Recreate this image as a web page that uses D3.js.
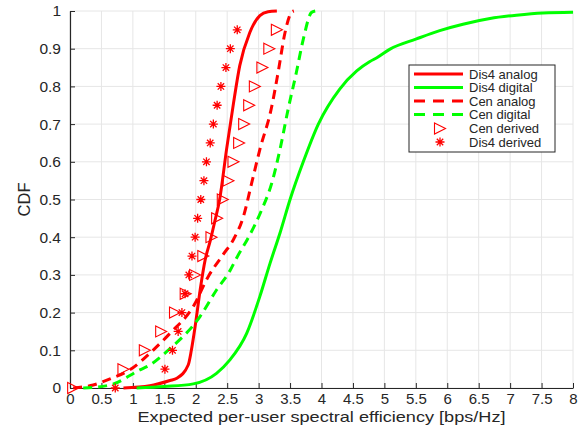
<!DOCTYPE html>
<html>
<head>
<meta charset="utf-8">
<script src="https://cdn.jsdelivr.net/npm/d3@7"></script>
<style>
  body { margin: 0; background: #fff; }
  text { font-family: "Liberation Sans", Arial, sans-serif; fill: #262626; }
</style>
</head>
<body>
<script>
// curves
let disAnalogX = [0.85, 1.27, 1.59, 1.70, 1.88, 1.93, 1.99, 2.07, 2.15, 2.23, 2.30, 2.38, 2.49, 2.60, 2.70, 2.86, 3.02, 3.15, 3.29];
let disAnalogY = [0, 0.006, 0.02, 0.026, 0.061, 0.10, 0.163, 0.26, 0.34, 0.39, 0.44, 0.50, 0.633, 0.755, 0.855, 0.943, 0.988, 0.998, 1.0];

let disDigitalX = [1.06, 1.5, 1.96, 2.33, 2.54, 2.81, 3.02, 3.18, 3.34, 3.50, 3.71, 3.95, 4.29, 4.56, 4.77, 4.88, 5.09, 5.51, 5.88, 6.25, 6.68, 7.10, 7.52, 8.0];
let disDigitalY = [0, 0.004, 0.011, 0.039, 0.074, 0.145, 0.243, 0.33, 0.411, 0.50, 0.60, 0.70, 0.793, 0.841, 0.866, 0.876, 0.899, 0.926, 0.948, 0.965, 0.98, 0.989, 0.995, 0.997];

let cenAnalogX = [0.05, 0.37, 0.65, 0.95, 1.32, 1.59, 1.96, 2.20, 2.44, 2.60, 2.76, 2.89, 3.02, 3.20, 3.31, 3.42, 3.52, 3.56];
let cenAnalogY = [0, 0.008, 0.025, 0.048, 0.10, 0.145, 0.216, 0.296, 0.355, 0.394, 0.456, 0.544, 0.633, 0.74, 0.837, 0.943, 0.996, 1.0];

let cenDigitalX = [0.21, 0.64, 1.11, 1.27, 1.56, 2.07, 2.33, 2.54, 2.65, 2.84, 3.05, 3.21, 3.34, 3.47, 3.60, 3.71, 3.84, 3.90];
let cenDigitalY = [0, 0.008, 0.048, 0.061, 0.10, 0.19, 0.26, 0.31, 0.345, 0.40, 0.473, 0.544, 0.633, 0.74, 0.837, 0.925, 0.996, 1.0];

// derived points, one every 0.05 of CDF
let derivedY = [0, 0.05, 0.1, 0.15, 0.2, 0.25, 0.3, 0.35, 0.4, 0.45, 0.5, 0.55, 0.6, 0.65, 0.7, 0.75, 0.8, 0.85, 0.9, 0.95];
let cenDerivedX = [0.05, 0.85, 1.19, 1.45, 1.67, 1.84, 1.99, 2.12, 2.25, 2.34, 2.43, 2.52, 2.60, 2.69, 2.77, 2.85, 2.94, 3.06, 3.17, 3.29];
let disDerivedX = [0.72, 1.51, 1.63, 1.72, 1.78, 1.83, 1.89, 1.94, 1.99, 2.03, 2.08, 2.13, 2.17, 2.23, 2.28, 2.34, 2.40, 2.48, 2.55, 2.66];

let xTicks = d3.range(0, 8.01, 0.5);
let yTicks = d3.range(0, 1.001, 0.1);

let margin = { top: 11, right: 8, bottom: 40, left: 70 };
let W = 581, H = 428;
let width = W - margin.left - margin.right;
let height = H - margin.top - margin.bottom;

let svg = d3.select('body').append('svg')
    .attr('width', W)
    .attr('height', H)
  .append('g')
    .attr('transform', 'translate(' + margin.left + ',' + margin.top + ')');

let x = d3.scaleLinear().domain([0, 8]).range([0, width]);
let y = d3.scaleLinear().domain([0, 1]).range([height, 0]);

// grid
svg.append('g').selectAll('line').data(xTicks).enter().append('line')
  .attr('x1', d => x(d)).attr('x2', d => x(d))
  .attr('y1', 0).attr('y2', height)
  .attr('stroke', '#e6e6e6');
svg.append('g').selectAll('line').data(yTicks).enter().append('line')
  .attr('x1', 0).attr('x2', width)
  .attr('y1', d => y(d)).attr('y2', d => y(d))
  .attr('stroke', '#e6e6e6');

function fmt(d) { return d3.format('~g')(+d.toFixed(2)); }

let xAxis = d3.axisBottom(x).tickValues(xTicks).tickSizeInner(-5).tickSizeOuter(0).tickPadding(5).tickFormat(fmt);
let yAxis = d3.axisLeft(y).tickValues(yTicks).tickSizeInner(-5).tickSizeOuter(0).tickPadding(9).tickFormat(fmt);

let gx = svg.append('g').attr('transform', 'translate(0,' + height + ')').call(xAxis);
let gy = svg.append('g').call(yAxis);
[gx, gy].forEach(g => {
  g.select('.domain').attr('stroke', '#262626').attr('stroke-width', 1.2);
  g.selectAll('.tick line').attr('stroke', '#262626');
  g.selectAll('.tick text').attr('font-size', 15.5).attr('fill', '#262626')
    .style('font-family', '"Liberation Sans", Arial, sans-serif');
});
gx.selectAll('.tick text').attr('font-size', 15);

svg.append('text')
  .attr('x', width / 2).attr('y', height + 34)
  .attr('text-anchor', 'middle').attr('font-size', 15)
  .attr('textLength', 368).attr('lengthAdjust', 'spacingAndGlyphs')
  .text('Expected per-user spectral efficiency [bps/Hz]');
svg.append('text')
  .attr('transform', 'translate(-40,' + (height / 2) + ') rotate(-90)')
  .attr('text-anchor', 'middle').attr('font-size', 16.5)
  .text('CDF');

let line = d3.line().curve(d3.curveMonotoneX).x(d => x(d[0])).y(d => y(d[1]));

let series = [
  { name: 'Dis4 analog', xs: disAnalogX, ys: disAnalogY, color: '#ff0000', dash: null },
  { name: 'Dis4 digital', xs: disDigitalX, ys: disDigitalY, color: '#00ff00', dash: null },
  { name: 'Cen analog', xs: cenAnalogX, ys: cenAnalogY, color: '#ff0000', dash: '9,6' },
  { name: 'Cen digital', xs: cenDigitalX, ys: cenDigitalY, color: '#00ff00', dash: '9,6' }
];

series.forEach(s => {
  svg.append('path')
    .datum(d3.zip(s.xs, s.ys))
    .attr('d', line)
    .attr('fill', 'none')
    .attr('stroke', s.color)
    .attr('stroke-width', 3)
    .attr('stroke-dasharray', s.dash);
});

let tri = 'M-5.5,-5.5L5.5,0L-5.5,5.5Z';
function star(g) {
  let r = 4.5, q = 3.2;
  g.append('path')
    .attr('d', `M${-r},0L${r},0M0,${-r}L0,${r}M${-q},${-q}L${q},${q}M${-q},${q}L${q},${-q}`)
    .attr('stroke', '#ff0000').attr('stroke-width', 1.3).attr('fill', 'none');
}

svg.append('g').selectAll('path').data(d3.zip(cenDerivedX, derivedY)).enter().append('path')
  .attr('transform', d => 'translate(' + x(d[0]) + ',' + y(d[1]) + ')')
  .attr('d', tri)
  .attr('fill', 'none').attr('stroke', '#ff0000').attr('stroke-width', 1.1);

svg.append('g').selectAll('g').data(d3.zip(disDerivedX, derivedY)).enter().append('g')
  .attr('transform', d => 'translate(' + x(d[0]) + ',' + y(d[1]) + ')')
  .each(function () { star(d3.select(this)); });

// legend
let lg = svg.append('g').attr('transform', 'translate(' + (409 - margin.left) + ',' + (65 - margin.top) + ')');
lg.append('rect').attr('width', 146).attr('height', 87)
  .attr('fill', '#fff').attr('stroke', '#262626').attr('stroke-width', 1);
let rowY = [9, 22.5, 36, 49.5, 63.5, 77];
series.forEach((s, i) => {
  lg.append('line').attr('x1', 5).attr('x2', 54).attr('y1', rowY[i]).attr('y2', rowY[i])
    .attr('stroke', s.color).attr('stroke-width', 3).attr('stroke-dasharray', s.dash ? '11,8' : null);
  lg.append('text').attr('x', 60).attr('y', rowY[i]).attr('dy', '0.35em').attr('font-size', 13).text(s.name);
});
lg.append('path').attr('transform', 'translate(31,' + rowY[4] + ')').attr('d', tri)
  .attr('fill', 'none').attr('stroke', '#ff0000').attr('stroke-width', 1.1);
lg.append('text').attr('x', 60).attr('y', rowY[4]).attr('dy', '0.35em').attr('font-size', 13).text('Cen derived');
star(lg.append('g').attr('transform', 'translate(31,' + rowY[5] + ')'));
lg.append('text').attr('x', 60).attr('y', rowY[5]).attr('dy', '0.35em').attr('font-size', 13).text('Dis4 derived');
</script>
</body>
</html>
